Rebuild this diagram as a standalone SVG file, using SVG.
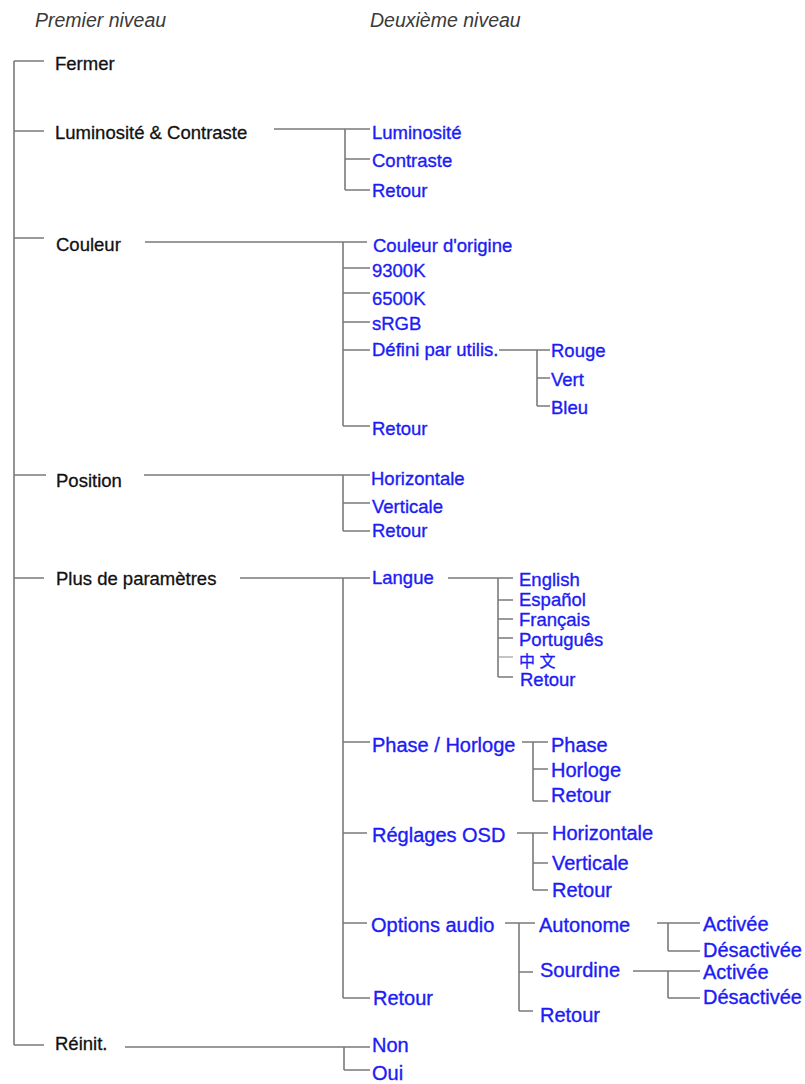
<svg xmlns="http://www.w3.org/2000/svg" width="805" height="1084" viewBox="0 0 805 1084">
<style>
.hdr{font-family:"Liberation Sans",Arial,sans-serif;font-style:italic;font-size:19.5px;fill:#3a3a3a}
.k{font-family:"Liberation Sans",Arial,sans-serif;font-size:18.5px;fill:#111;stroke:#111;stroke-width:0.3}
.b{font-family:"Liberation Sans",Arial,sans-serif;font-size:18.5px;fill:#1c1cf5;stroke:#1c1cf5;stroke-width:0.35}
.b2{font-family:"Liberation Sans",Arial,sans-serif;font-size:20px;fill:#1c1cf5;stroke:#1c1cf5;stroke-width:0.35}
.cjk{font-family:"Liberation Sans","Noto Sans CJK SC",sans-serif;font-size:16px;fill:#1c1cf5;stroke:#1c1cf5;stroke-width:0.3}
.c{fill:none;stroke:#7a7a7a;stroke-width:1.6}
.cl{fill:none;stroke:#b5b5b5;stroke-width:1.6}
</style>
<rect width="805" height="1084" fill="#fff"/>
<g id="headers">
<text class="hdr" x="35" y="27">Premier niveau</text>
<text class="hdr" x="370" y="27">Deuxième niveau</text>
</g>
<g id="connectors">
<path class="c" d="M14 61V1045M14 61H44M14 131H44M14 238H44M14 475H46M14 578H44M14 1045H44"/>
<path class="c" d="M274 129H370M345 129V190M345 159H370M345 190H370"/>
<path class="c" d="M145 242H367M343 242V426M343 268H370M343 293H370M343 322H370M343 350H370M343 426H370"/>
<path class="c" d="M499 350H550M537 350V406M537 378H550M537 406H550"/>
<path class="c" d="M144 475H370M343 475V531M343 503H370M343 531H370"/>
<path class="c" d="M240 578H370M343 578V998M343 742H370M343 833H367M343 923H367M343 998H370"/>
<path class="c" d="M448 578H513M498 578V677M498 600H513M498 619H513M498 638H513M498 677H513"/>
<path class="cl" d="M499 657H513"/>
<path class="c" d="M522 742H548M533 742V801M533 769H548M533 801H548"/>
<path class="c" d="M517 833H548M533 833V890M533 863H548M533 890H548"/>
<path class="c" d="M505 923H535M519 923V1011M519 972H533M519 1011H533"/>
<path class="c" d="M657 923H700M668 923V951M668 951H700"/>
<path class="c" d="M633 971H700M668 971V998M668 998H700"/>
<path class="c" d="M125 1047H370M344 1047V1070M344 1070H370"/>
</g>
<g id="fermer"><text class="k" x="55" y="70">Fermer</text></g>
<g id="luminosite-contraste">
<text class="k" x="55" y="139">Luminosité &amp; Contraste</text>
<text class="b" x="372" y="139">Luminosité</text>
<text class="b" x="372" y="167">Contraste</text>
<text class="b" x="372" y="197">Retour</text>
</g>
<g id="couleur">
<text class="k" x="56" y="251">Couleur</text>
<text class="b" x="373" y="252">Couleur d'origine</text>
<text class="b" x="372" y="277">9300K</text>
<text class="b" x="372" y="305">6500K</text>
<text class="b" x="372" y="330">sRGB</text>
<text class="b" x="372" y="356">Défini par utilis.</text>
<text class="b" x="551" y="357">Rouge</text>
<text class="b" x="551" y="386">Vert</text>
<text class="b" x="551" y="414">Bleu</text>
<text class="b" x="372" y="435">Retour</text>
</g>
<g id="position">
<text class="k" x="56" y="487">Position</text>
<text class="b" x="371" y="485">Horizontale</text>
<text class="b" x="372" y="513">Verticale</text>
<text class="b" x="372" y="537">Retour</text>
</g>
<g id="plus-de-parametres">
<text class="k" x="56" y="585">Plus de paramètres</text>
<text class="b" x="372" y="584">Langue</text>
<text class="b" x="519" y="586">English</text>
<text class="b" x="519" y="606">Español</text>
<text class="b" x="519" y="626">Français</text>
<text class="b" x="519" y="646">Português</text>
<text class="cjk" x="519" y="667">中 文</text>
<text class="b" x="520" y="686">Retour</text>
<text class="b2" x="372" y="752">Phase / Horloge</text>
<text class="b2" x="551" y="752">Phase</text>
<text class="b2" x="551" y="777">Horloge</text>
<text class="b2" x="551" y="802">Retour</text>
<text class="b2" x="372" y="842">Réglages OSD</text>
<text class="b2" x="552" y="840">Horizontale</text>
<text class="b2" x="552" y="870">Verticale</text>
<text class="b2" x="552" y="897">Retour</text>
<text class="b2" x="371" y="932">Options audio</text>
<text class="b2" x="539" y="932">Autonome</text>
<text class="b2" x="703" y="931">Activée</text>
<text class="b2" x="703" y="957">Désactivée</text>
<text class="b2" x="540" y="977">Sourdine</text>
<text class="b2" x="703" y="979">Activée</text>
<text class="b2" x="703" y="1004">Désactivée</text>
<text class="b2" x="540" y="1022">Retour</text>
<text class="b2" x="373" y="1005">Retour</text>
</g>
<g id="reinit">
<text class="k" x="55" y="1050">Réinit.</text>
<text class="b2" x="372" y="1052">Non</text>
<text class="b2" x="372" y="1080">Oui</text>
</g>
</svg>
